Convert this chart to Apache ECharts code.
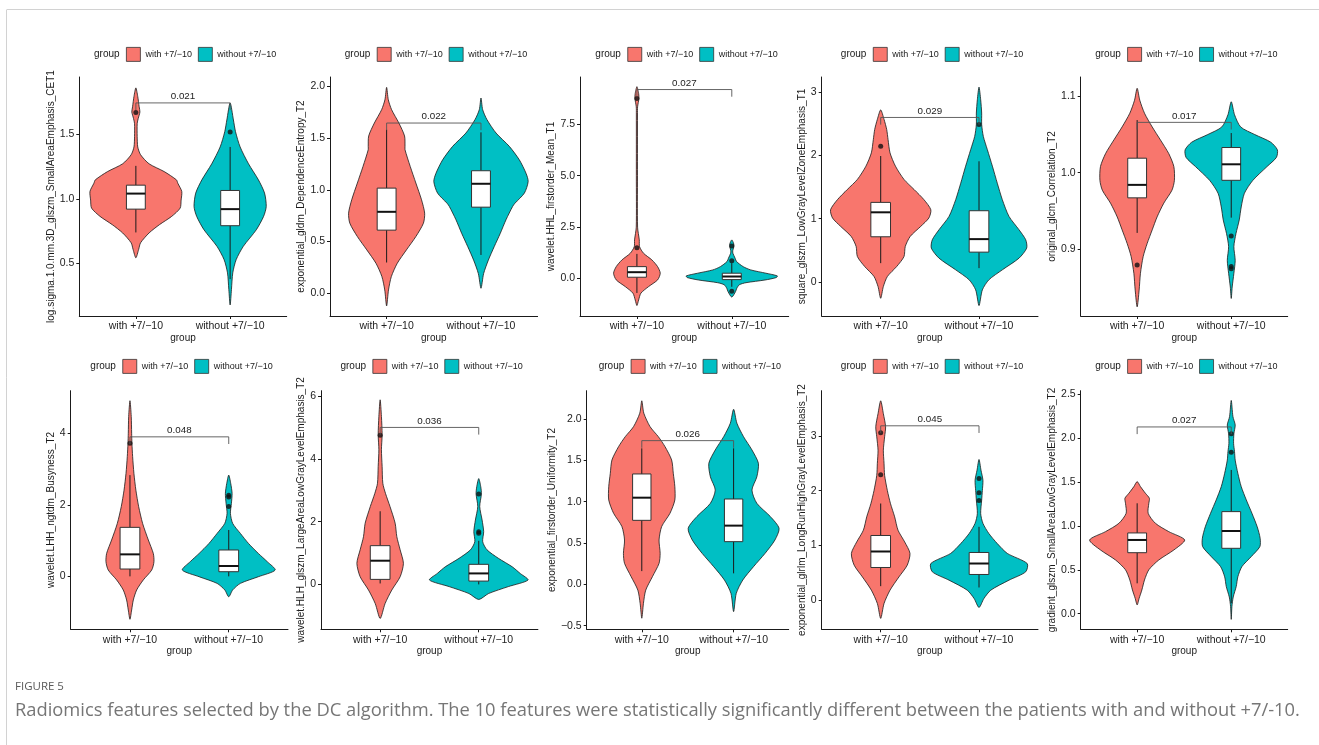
<!DOCTYPE html>
<html><head><meta charset="utf-8">
<script src="https://cdn.jsdelivr.net/npm/echarts@6/dist/echarts.min.js"></script>
<style>html,body{margin:0;padding:0;background:#fff}#chart{width:1319px;height:745px}</style>
</head><body><div id="chart"></div><script>
// ---------------- DATA ----------------
const categories = ['with +7/\u221210', 'without +7/\u221210'];
const groupColors = ['#F8766D', '#00BFC4'];
const yTitles = [
  'log.sigma.1.0.mm.3D_glszm_SmallAreaEmphasis_CET1',
  'exponential_gldm_DependenceEntropy_T2',
  'wavelet.HHL_firstorder_Mean_T1',
  'square_glszm_LowGrayLevelZoneEmphasis_T1',
  'original_glcm_Correlation_T2',
  'wavelet.LHH_ngtdm_Busyness_T2',
  'wavelet.HLH_glszm_LargeAreaLowGrayLevelEmphasis_T2',
  'exponential_firstorder_Uniformity_T2',
  'exponential_glrlm_LongRunHighGrayLevelEmphasis_T2',
  'gradient_glszm_SmallAreaLowGrayLevelEmphasis_T2'
];
const pLabels = ['0.021','0.022','0.027','0.029','0.017','0.048','0.036','0.026','0.045','0.027'];
const bracketY = [1.74, 1.645, 9.19, 2.60, 1.066, 3.9, 5.0, 1.738, 3.187, 2.128];
const yMins = [0.095, -0.22, -1.82, -0.54, 0.812, -1.48, -1.43, -0.544, -0.54, -0.178];
const yMaxs = [1.94, 2.09, 9.8, 3.24, 1.1255, 5.19, 6.17, 2.342, 3.83, 2.541];
const yTicks = [
  [0.5, 1.0, 1.5], [0, 0.5, 1, 1.5, 2], [0, 2.5, 5, 7.5], [0, 1, 2, 3], [0.9, 1.0, 1.1],
  [0, 2, 4], [0, 2, 4, 6], [-0.5, 0, 0.5, 1, 1.5, 2], [0, 1, 2, 3], [0, 0.5, 1, 1.5, 2, 2.5]
];
const tickDecimals = [1, 1, 1, 0, 1, 0, 0, 1, 0, 1];

// box statistics: [lower whisker, Q1, median, Q3, upper whisker]
const boxWith = [
  [0.74, 0.92, 1.04, 1.105, 1.254],
  [0.297, 0.61, 0.787, 1.016, 1.58],
  [-0.7, 0.065, 0.31, 0.58, 1.2],
  [0.296, 0.713, 1.1, 1.257, 1.99],
  [0.921, 0.967, 0.984, 1.019, 1.069],
  [0.0, 0.205, 0.615, 1.37, 2.83],
  [0.03, 0.16, 0.755, 1.234, 2.33],
  [0.16, 0.774, 1.048, 1.335, 1.645],
  [0.25, 0.592, 0.885, 1.178, 1.764],
  [0.346, 0.695, 0.84, 0.92, 1.258]
];
const boxWithout = [
  [0.38, 0.792, 0.92, 1.064, 1.40],
  [0.37, 0.832, 1.058, 1.184, 1.555],
  [-0.4, -0.05, 0.1, 0.26, 0.75],
  [0.217, 0.47, 0.676, 1.125, 1.907],
  [0.941, 0.99, 1.011, 1.033, 1.052],
  [0.0, 0.13, 0.29, 0.737, 1.296],
  [0.0, 0.106, 0.35, 0.64, 1.39],
  [0.133, 0.516, 0.71, 1.032, 1.645],
  [0.226, 0.464, 0.665, 0.867, 1.337],
  [0.12, 0.745, 0.942, 1.163, 1.638]
];
const outliersWith = [[1.665], [], [1.5, 8.75], [2.145], [0.879], [3.72], [4.75], [], [3.06, 2.29], []];
const outliersWithout = [[1.515], [], [1.58, 0.87, -0.62], [2.49], [0.917, 0.877, 0.874], [2.27, 2.22, 1.95], [2.88, 1.68, 1.63], [], [2.22, 1.96, 1.82], [2.05, 1.84]];

// violin outlines: [y, half width in category units], top to bottom
const violinWith1 = [[1.856,0],[1.79,0.02],[1.71,0.035],[1.67,0.043],[1.62,0.025],[1.58,0.014],[1.48,0.014],[1.40,0.02],[1.34,0.05],[1.27,0.14],[1.21,0.30],[1.146,0.43],[1.12,0.445],[1.056,0.487],[0.99,0.48],[0.928,0.47],[0.864,0.38],[0.80,0.25],[0.736,0.14],[0.66,0.05],[0.61,0.03],[0.544,0]];
const violinWithout1 = [[1.74,0],[1.608,0.035],[1.518,0.057],[1.40,0.106],[1.27,0.195],[1.146,0.30],[1.044,0.365],[0.94,0.383],[0.864,0.355],[0.76,0.277],[0.633,0.14],[0.53,0.064],[0.428,0.028],[0.30,0.014],[0.18,0]];
const violinWith2 = [[1.99,0],[1.87,0.018],[1.774,0.053],[1.645,0.13],[1.52,0.19],[1.42,0.195],[1.387,0.195],[1.226,0.25],[1.065,0.31],[0.903,0.37],[0.774,0.403],[0.677,0.39],[0.548,0.31],[0.419,0.21],[0.29,0.113],[0.161,0.05],[0.032,0.02],[-0.123,0]];
const violinWithout2 = [[1.887,0],[1.774,0.018],[1.677,0.064],[1.548,0.16],[1.42,0.30],[1.29,0.406],[1.16,0.477],[1.08,0.50],[0.968,0.46],[0.87,0.36],[0.84,0.336],[0.71,0.265],[0.58,0.205],[0.45,0.14],[0.32,0.078],[0.19,0.028],[0.048,0]];
const violinWith3 = [[9.33,0],[9.0,0.018],[8.75,0.021],[8.35,0.007],[8.0,0.006],[5.0,0.006],[2.5,0.007],[1.88,0.025],[1.55,0.028],[1.23,0.07],[0.906,0.158],[0.58,0.218],[0.26,0.246],[-0.065,0.218],[-0.39,0.123],[-0.71,0.042],[-1.04,0.018],[-1.31,0]];
const violinWithout3 = [[1.88,0],[1.68,0.021],[1.52,0.02],[1.35,0.01],[1.23,0.012],[0.99,0.035],[0.83,0.05],[0.58,0.12],[0.42,0.2],[0.26,0.36],[0.13,0.48],[0.05,0.47],[-0.07,0.35],[-0.2,0.15],[-0.3,0.08],[-0.47,0.053],[-0.63,0.04],[-0.9,0]];
const violinWith4 = [[2.72,0],[2.57,0.034],[2.41,0.061],[2.25,0.075],[2.04,0.095],[1.83,0.15],[1.62,0.237],[1.46,0.34],[1.30,0.44],[1.14,0.51],[1.01,0.49],[0.877,0.407],[0.718,0.30],[0.56,0.25],[0.40,0.237],[0.243,0.163],[0.085,0.068],[-0.074,0.027],[-0.26,0]];
const violinWithout4 = [[3.08,0],[2.88,0.017],[2.67,0.027],[2.49,0.027],[2.30,0.044],[2.09,0.085],[1.83,0.136],[1.56,0.186],[1.30,0.237],[1.035,0.305],[0.824,0.407],[0.666,0.475],[0.534,0.485],[0.375,0.407],[0.19,0.237],[0.032,0.10],[-0.127,0.034],[-0.375,0]];
const violinWith5 = [[1.1107,0],[1.095,0.028],[1.078,0.078],[1.06,0.16],[1.043,0.247],[1.025,0.336],[1.008,0.39],[0.99,0.396],[0.977,0.37],[0.96,0.283],[0.942,0.212],[0.925,0.16],[0.907,0.106],[0.89,0.064],[0.868,0.035],[0.846,0.021],[0.824,0]];
const violinWithout5 = [[1.093,0],[1.076,0.035],[1.06,0.10],[1.05,0.25],[1.04,0.42],[1.03,0.49],[1.02,0.48],[1.008,0.38],[0.99,0.23],[0.973,0.14],[0.955,0.106],[0.938,0.085],[0.92,0.05],[0.903,0.028],[0.885,0.042],[0.868,0.028],[0.85,0.01],[0.835,0]];
const violinWith6 = [[4.91,0],[4.47,0.013],[4.0,0.017],[3.72,0.02],[3.35,0.027],[2.88,0.04],[2.41,0.06],[1.95,0.088],[1.48,0.128],[1.016,0.186],[0.643,0.236],[0.41,0.243],[0.177,0.22],[-0.1,0.135],[-0.38,0.068],[-0.66,0.034],[-0.94,0.017],[-1.2,0]];
const violinWithout6 = [[2.83,0],[2.6,0.02],[2.32,0.034],[2.04,0.027],[1.76,0.017],[1.48,0.04],[1.2,0.118],[0.92,0.2],[0.64,0.30],[0.41,0.39],[0.177,0.47],[-0.01,0.30],[-0.196,0.118],[-0.38,0.04],[-0.57,0]];
const violinWith7 = [[5.88,0],[5.35,0.013],[4.77,0.02],[4.29,0.013],[3.76,0.02],[3.22,0.027],[2.9,0.054],[2.48,0.10],[1.95,0.152],[1.52,0.169],[1.1,0.203],[0.67,0.236],[0.245,0.203],[-0.18,0.118],[-0.61,0.05],[-1.085,0]];
const violinWithout7 = [[3.37,0],[3.12,0.02],[2.88,0.027],[2.48,0.01],[2.05,0.034],[1.68,0.05],[1.36,0.04],[1.1,0.084],[0.83,0.20],[0.56,0.34],[0.35,0.42],[0.14,0.50],[-0.07,0.30],[-0.29,0.10],[-0.48,0]];
const violinWith8 = [[2.22,0],[2.07,0.022],[1.907,0.09],[1.786,0.18],[1.665,0.253],[1.504,0.325],[1.343,0.343],[1.18,0.36],[1.02,0.36],[0.859,0.307],[0.70,0.217],[0.536,0.188],[0.375,0.20],[0.254,0.188],[0.093,0.116],[-0.07,0.043],[-0.23,0.018],[-0.41,0]];
const violinWithout8 = [[2.117,0],[1.948,0.036],[1.786,0.108],[1.625,0.2],[1.464,0.27],[1.30,0.253],[1.14,0.2],[0.98,0.253],[0.82,0.40],[0.677,0.495],[0.536,0.45],[0.375,0.343],[0.214,0.217],[0.052,0.10],[-0.109,0.029],[-0.33,0]];
const violinWith9 = [[3.645,0],[3.41,0.027],[3.17,0.05],[2.985,0.04],[2.74,0.027],[2.5,0.034],[2.28,0.04],[2.0,0.068],[1.76,0.10],[1.52,0.142],[1.276,0.176],[1.06,0.244],[0.85,0.298],[0.635,0.27],[0.42,0.186],[0.177,0.095],[-0.067,0.034],[-0.34,0]];
const violinWithout9 = [[2.57,0],[2.375,0.02],[2.19,0.04],[2.0,0.034],[1.825,0.027],[1.58,0.017],[1.4,0.04],[1.215,0.10],[1.03,0.186],[0.85,0.288],[0.665,0.49],[0.513,0.475],[0.36,0.305],[0.177,0.12],[0.024,0.05],[-0.14,0]];
const violinWith10 = [[1.505,0],[1.448,0.035],[1.372,0.088],[1.315,0.13],[1.258,0.124],[1.144,0.117],[1.03,0.194],[0.935,0.336],[0.84,0.505],[0.726,0.39],[0.612,0.23],[0.5,0.124],[0.384,0.078],[0.27,0.05],[0.175,0.021],[0.1,0]];
const violinWithout10 = [[2.43,0],[2.245,0.018],[2.15,0.042],[2.05,0.028],[1.94,0.025],[1.846,0.035],[1.75,0.042],[1.6,0.07],[1.448,0.106],[1.296,0.16],[1.144,0.22],[0.99,0.276],[0.86,0.307],[0.764,0.304],[0.65,0.212],[0.536,0.113],[0.42,0.07],[0.31,0.053],[0.19,0.021],[0.08,0.007],[-0.065,0]];

const violinsWith = [violinWith1, violinWith2, violinWith3, violinWith4, violinWith5, violinWith6, violinWith7, violinWith8, violinWith9, violinWith10];
const violinsWithout = [violinWithout1, violinWithout2, violinWithout3, violinWithout4, violinWithout5, violinWithout6, violinWithout7, violinWithout8, violinWithout9, violinWithout10];

// ---------------- LAYOUT ----------------
const FONT = '"Liberation Sans", Arial, Helvetica, sans-serif';
const CAP_FONT = '"Open Sans", sans-serif';
const gridLeft = [79.3, 330, 580, 821.7, 1080.7, 70.7, 321, 586.7, 821.7, 1080.7];
const gridWidth = [207.4, 207.6, 208.7, 216.3, 207, 217.3, 216.9, 202, 216.3, 207];
const rowTop = [77, 390.7];
const rowHeight = [239, 238.6];
const legendY = [54, 366];
const TICK_FS = 10.5, TITLE_FS = 10, LEGEND_FS = 9;
const BOX_HW = 0.1;

const ctx = document.createElement('canvas').getContext('2d');
ctx.font = TICK_FS + 'px ' + FONT;
function fmt(v, d) { const s = v.toFixed(d); return s.charAt(0) === '-' ? '\u2212' + s.slice(1) : s; }

const grids = [], xAxes = [], yAxes = [], series = [], legends = [], graphics = [];

for (let i = 0; i < 10; i++) {
  const row = i < 5 ? 0 : 1;
  grids.push({left: gridLeft[i], top: rowTop[row], width: gridWidth[i], height: rowHeight[row], containLabel: false});
  xAxes.push({
    type: 'value', gridIndex: i, min: 0.4, max: 2.6,
    name: 'group', nameLocation: 'middle', nameGap: 17,
    nameTextStyle: {fontSize: TITLE_FS, color: '#1a1a1a', fontFamily: FONT, verticalAlign: 'top'},
    axisLine: {show: true, onZero: false, lineStyle: {color: '#1a1a1a', width: 1}},
    axisTick: {show: true, length: 3, customValues: [1, 2], lineStyle: {color: '#1a1a1a'}},
    axisLabel: {customValues: [1, 2], margin: 5, fontSize: TICK_FS, color: '#222', fontFamily: FONT,
      formatter: v => categories[Math.round(v) - 1]},
    splitLine: {show: false}
  });
  const d = tickDecimals[i];
  const maxW = Math.max(...yTicks[i].map(v => ctx.measureText(fmt(v, d)).width));
  yAxes.push({
    type: 'value', gridIndex: i, min: yMins[i], max: yMaxs[i],
    name: yTitles[i], nameLocation: 'middle', nameGap: maxW + 7,
    nameTextStyle: {fontSize: TITLE_FS, color: '#1a1a1a', fontFamily: FONT},
    axisLine: {show: true, onZero: false, lineStyle: {color: '#1a1a1a', width: 1}},
    axisTick: {show: true, length: 3, customValues: yTicks[i], lineStyle: {color: '#1a1a1a'}},
    axisLabel: {customValues: yTicks[i], margin: 5, fontSize: TICK_FS, color: '#222', fontFamily: FONT,
      formatter: v => fmt(v, d)},
    splitLine: {show: false}
  });

  const profiles = [violinsWith[i], violinsWithout[i]];
  const boxes = [boxWith[i], boxWithout[i]];
  const outs = [outliersWith[i], outliersWithout[i]];
  for (let g = 0; g < 2; g++) {
    const prof = profiles[g].slice().sort((a, b) => a[0] - b[0]);
    series.push({
      type: 'custom', name: categories[g], xAxisIndex: i, yAxisIndex: i, z: 2, silent: true,
      itemStyle: {color: groupColors[g]},
      data: [[g + 1, boxes[g][2]]],
      renderItem: (params, api) => {
        const cx = api.value(0);
        const right = prof.map(p => api.coord([cx + p[1], p[0]]));
        const left = prof.slice(1, -1).reverse().map(p => api.coord([cx - p[1], p[0]]));
        return {type: 'polygon', shape: {points: right.concat(left), smooth: 0.25},
          style: {fill: groupColors[g], stroke: '#1a1a1a', lineWidth: 0.8}};
      }
    });
    series.push({
      type: 'custom', name: categories[g] + ' box', xAxisIndex: i, yAxisIndex: i, z: 3, silent: true,
      data: [[g + 1].concat(boxes[g])],
      renderItem: (params, api) => {
        const x = api.value(0);
        const c = k => api.coord([x, api.value(k)]);
        const lo = c(1), q1 = c(2), md = c(3), q3 = c(4), hi = c(5);
        const xl = api.coord([x - BOX_HW, 0])[0], xr = api.coord([x + BOX_HW, 0])[0];
        const ls = {stroke: '#1a1a1a', lineWidth: 1};
        return {type: 'group', children: [
          {type: 'line', shape: {x1: lo[0], y1: lo[1], x2: q1[0], y2: q1[1]}, style: ls},
          {type: 'line', shape: {x1: q3[0], y1: q3[1], x2: hi[0], y2: hi[1]}, style: ls},
          {type: 'rect', shape: {x: xl, y: q3[1], width: xr - xl, height: q1[1] - q3[1]}, style: {fill: '#fff', stroke: '#333', lineWidth: 1}},
          {type: 'line', shape: {x1: xl, y1: md[1], x2: xr, y2: md[1]}, style: {stroke: '#111', lineWidth: 2}}
        ]};
      }
    });
    series.push({
      type: 'scatter', name: categories[g] + ' outliers', xAxisIndex: i, yAxisIndex: i, z: 4, silent: true,
      symbolSize: 5, itemStyle: {color: '#111'},
      data: outs[g].map(v => [g + 1, v])
    });
  }
  const tip = 0.03 * (yMaxs[i] - yMins[i]);
  const pl = pLabels[i];
  series.push({
    type: 'custom', name: 'bracket', xAxisIndex: i, yAxisIndex: i, z: 5, silent: true,
    data: [[1, 2, bracketY[i]]],
    renderItem: (params, api) => {
      const y = api.value(2);
      const a = api.coord([api.value(0), y - tip]), b = api.coord([api.value(0), y]);
      const c = api.coord([api.value(1), y]), e = api.coord([api.value(1), y - tip]);
      return {type: 'group', children: [
        {type: 'polyline', shape: {points: [a, b, c, e]}, style: {stroke: '#555', lineWidth: 0.9, fill: null}},
        {type: 'text', style: {x: (b[0] + c[0]) / 2, y: b[1] - 1.5, text: pl, align: 'center', verticalAlign: 'bottom',
          fontSize: 9.8, fill: '#222', fontFamily: FONT}}
      ]};
    }
  });

  // legend (centered above panel)
  const cx = gridLeft[i] + gridWidth[i] / 2;
  const lx = cx - 89;
  graphics.push({type: 'text', x: lx, y: legendY[row], style: {text: 'group', fontSize: 10, fill: '#1a1a1a', fontFamily: FONT, align: 'left', verticalAlign: 'middle'}});
  legends.push({
    left: lx + 32, top: legendY[row] - 7, padding: 0, itemWidth: 14, itemHeight: 14, itemGap: 6,
    selectedMode: false, textStyle: {fontSize: LEGEND_FS, color: '#1a1a1a', fontFamily: FONT},
    data: categories.map((n, g) => ({name: n, icon: 'rect', itemStyle: {color: groupColors[g], borderColor: '#333', borderWidth: 0.8}}))
  });
}

// frame lines and caption
const captionText = 'Radiomics features selected by the DC algorithm. The 10 features were statistically significantly different between the patients with and without +7/-10.';
ctx.font = '15px ' + CAP_FONT;
const capSize = Math.min(19, 15 * 1285 / ctx.measureText(captionText).width);
graphics.push({type: 'line', shape: {x1: 7, y1: 9.5, x2: 1319, y2: 9.5}, style: {stroke: '#d2d2d2', lineWidth: 1}});
graphics.push({type: 'line', shape: {x1: 6.5, y1: 9.5, x2: 6.5, y2: 745}, style: {stroke: '#d2d2d2', lineWidth: 1}});
graphics.push({type: 'text', x: 15, y: 687, style: {text: 'FIGURE 5', fontSize: 11.5, fill: '#5a5a5a', fontFamily: CAP_FONT, verticalAlign: 'middle'}});
graphics.push({type: 'text', x: 15, y: 711, style: {text: captionText, fontSize: capSize, fill: '#767676', fontFamily: CAP_FONT, verticalAlign: 'middle'}});

const chart = echarts.init(document.getElementById('chart'), null, {renderer: 'canvas'});
chart.setOption({
  animation: false,
  backgroundColor: '#fff',
  textStyle: {fontFamily: FONT},
  grid: grids, xAxis: xAxes, yAxis: yAxes, legend: legends, series: series,
  graphic: {elements: graphics}
});
</script></body></html>
